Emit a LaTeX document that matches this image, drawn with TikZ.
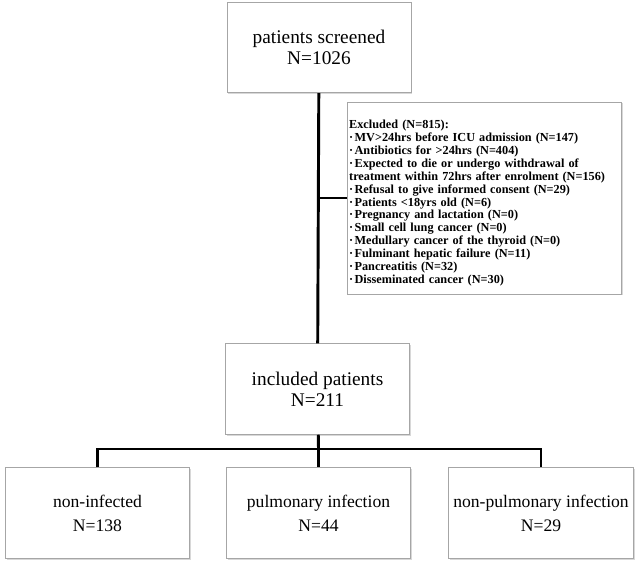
\documentclass[tikz,border=0pt]{standalone}
\usepackage{fontspec}
\setmainfont{Liberation Serif}
\usepackage{tikz}
\usetikzlibrary{positioning, shadows}
\tikzset{
		stagebox/.style={draw=gray!70, fill=white, line width=0.6pt,
			minimum width=138pt, minimum height=68pt, align=center,
			font=\fontsize{14.5}{15.5}\selectfont,
			drop shadow={shadow xshift=1pt, shadow yshift=-1pt, fill=gray!60}},
		groupbox/.style={stagebox, font=\fontsize{13.2}{18}\selectfont},
		exclbox/.style={draw=gray!70, fill=white, line width=0.6pt,
			text width=203pt, minimum height=144pt, inner sep=1.5pt,
			align=left, font=\fontsize{9.2}{9.7}\selectfont\bfseries,
			drop shadow={shadow xshift=1pt, shadow yshift=-1pt, fill=gray!60}},
		link/.style={line width=2.2pt, black}
	}
\newcommand{\itm}{\textperiodcentered\kern1pt}

\begin{document}
\begin{tikzpicture}[x=0.75pt, y=-0.75pt]
				\useasboundingbox (0,0) rectangle (638,568);
				\node[stagebox] (screened) at (319,47.5)  {patients screened\\N=1026};
				\node[stagebox] (included) at (317.5,389) {included patients\\N=211};
				\node[exclbox]  (excluded) at (484.5,198) {\rule{0pt}{14pt}Excluded (N=815):\\
					\itm MV>24hrs before ICU admission (N=147)\\
					\itm Antibiotics for >24hrs (N=404)\\
					\itm Expected to die or undergo withdrawal of\\
					treatment within 72hrs after enrolment (N=156)\\
					\itm Refusal to give informed consent (N=29)\\
					\itm Patients <18yrs old (N=6)\\
					\itm Pregnancy and lactation (N=0)\\
					\itm Small cell lung cancer (N=0)\\
					\itm Medullary cancer of the thyroid (N=0)\\
					\itm Fulminant hepatic failure (N=11)\\
					\itm Pancreatitis (N=32)\\
					\itm Disseminated cancer (N=30)};
				\node[groupbox] (pulm)    at (318.5,513) {pulmonary infection\\N=44};
				\node[groupbox] (noninf)  at (97.5,513)  {non-infected\\N=138};
				\node[groupbox] (nonpulm) at (541,513)   {non-pulmonary infection\\N=29};
				\coordinate (split) at (318.5,449);

				\draw[link] (screened) -- (included);
				\draw[link] (screened.south |- excluded.west) -- (excluded.west);
				\draw[link] (included) -- (split);
				\draw[link] (noninf.north) |- (split) -| (nonpulm.north);
				\draw[link] (split) -- (pulm);
			\end{tikzpicture}
\end{document}
